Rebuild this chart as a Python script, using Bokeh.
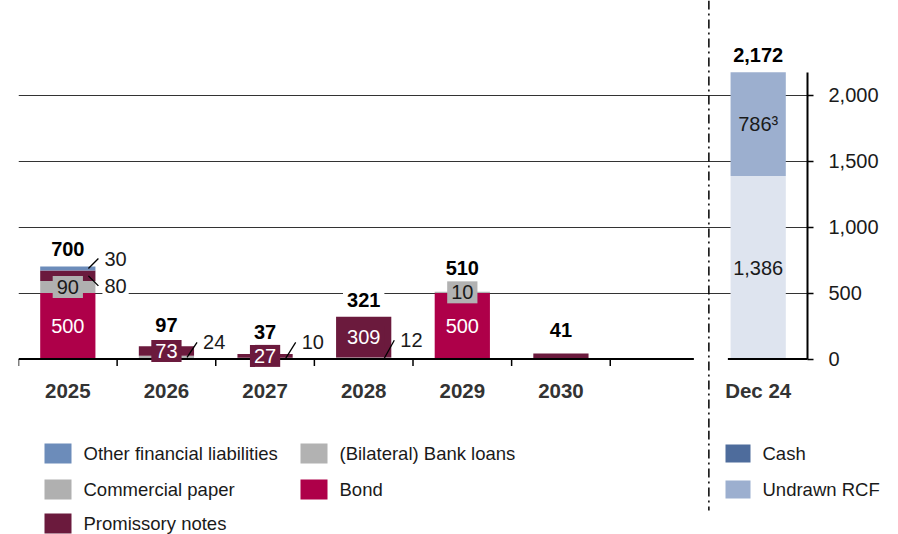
import numpy as np
from bokeh.plotting import figure
from bokeh.layouts import column
from bokeh.models import Range1d, FixedTicker, NumeralTickFormatter, ColumnDataSource
from bokeh.core.properties import value, field
from bokeh.embed import file_html
from bokeh.resources import INLINE

# ---------------- data ----------------
years = ["2025", "2026", "2027", "2028", "2029", "2030"]
bond = [500, 0, 0, 0, 500, 0]
bank_loans = [0, 24, 10, 12, 10, 0]
commercial_paper = [90, 0, 0, 0, 0, 0]
promissory_notes = [80, 73, 27, 309, 0, 41]
other_financial_liabilities = [30, 0, 0, 0, 0, 0]

liquidity_category = "Dec 24"
cash = [1386]
undrawn_rcf = [786]
undrawn_rcf_note = "\u00b3"

y_ticks = [0, 500, 1000, 1500, 2000]

# ---------------- style / layout ----------------
W, H = 898, 534
H_TOP = 430              # height of chart figure; the legend strip sits below
FRAME_L, FRAME_R = 18, 807
Y0_PX = 358.5            # pixel row of value 0
PX_PER_UNIT = 0.132      # vertical scale
FONT = "Liberation Sans"
BAR_W = 0.56

BOND_C = "#ae0049"
BL_C = "#b2b2b2"
CP_C = "#b0b0b0"
PN_C = "#6b1a3d"
OFL_C = "#6c8cba"
CASH_LEGEND_C = "#4e6c9c"
RCF_C = "#9cafcf"
CASH_BAR_C = "#dee4ef"
DARK = "#1a1a1a"

N_SLOTS = len(years) + 2
Y_TOP = Y0_PX / PX_PER_UNIT
Y_BOTTOM = -(H_TOP - Y0_PX) / PX_PER_UNIT
X_PER_PX = N_SLOTS / (FRAME_R - FRAME_L)


def dy(px):
    return px / PX_PER_UNIT


def dx(px):
    return px * X_PER_PX


# label placement (pixels): callouts with leader lines, rise of total labels
callout_rise = {
    ("2025", "Other financial liabilities"): 10,
    ("2025", "Promissory notes"): -10,
    ("2026", "(Bilateral) Bank loans"): 15,
    ("2027", "(Bilateral) Bank loans"): 16,
    ("2028", "(Bilateral) Bank loans"): 18,
}
no_inner_label = {("2030", "Promissory notes")}
total_rise = [18, 21, 22, 17, 24, 24]
liquidity_total_rise = 17

series = [
    ("Bond", bond, BOND_C, "white"),
    ("(Bilateral) Bank loans", bank_loans, BL_C, DARK),
    ("Commercial paper", commercial_paper, CP_C, DARK),
    ("Promissory notes", promissory_notes, PN_C, "white"),
    ("Other financial liabilities", other_financial_liabilities, OFL_C, "white"),
]

p = figure(width=W, height=H_TOP, x_range=Range1d(0, N_SLOTS), y_range=Range1d(Y_BOTTOM, Y_TOP),
           x_axis_location=None, y_axis_location="right", toolbar_location=None,
           output_backend="svg", min_border_left=FRAME_L, min_border_right=W - FRAME_R,
           min_border_top=0, min_border_bottom=0)
p.frame_align = False
p.outline_line_color = None
p.background_fill_color = "white"
p.border_fill_color = "white"
p.xgrid.visible = False

# right axis
ax = p.yaxis[0]
ax.ticker = FixedTicker(ticks=y_ticks)
ax.formatter = NumeralTickFormatter(format="0,0")
ax.bounds = (0, cash[0] + undrawn_rcf[0])
ax.axis_line_color = "black"
ax.axis_line_width = 2
ax.major_tick_line_color = "black"
ax.major_tick_line_width = 1.5
ax.major_tick_out = 6
ax.major_tick_in = 0
ax.minor_tick_line_color = None
ax.major_label_standoff = 15
ax.major_label_text_font = FONT
ax.major_label_text_font_size = "20px"
ax.major_label_text_color = DARK

p.ygrid.ticker = FixedTicker(ticks=y_ticks[1:])
p.ygrid.grid_line_color = "#333333"
p.ygrid.grid_line_width = 1

# ---------------- bars ----------------
xs = np.arange(len(years)) + 0.5
base = np.zeros(len(years))
inner = dict(x=[], y=[], text=[], color=[], bg=[])
call = dict(x=[], y=[], text=[])
lead = dict(x0=[], y0=[], x1=[], y1=[])
for name, vals, col, tcol in series:
    vals = np.array(vals, dtype=float)
    src = ColumnDataSource(dict(x=xs, bottom=base, top=base + vals))
    p.vbar(x="x", bottom="bottom", top="top", width=BAR_W, source=src,
           fill_color=col, line_color=None)
    for i, v in enumerate(vals):
        if v <= 0:
            continue
        key = (years[i], name)
        mid = base[i] + v / 2
        if key in no_inner_label:
            continue
        if key in callout_rise:
            xr = xs[i] + BAR_W / 2
            x0, x1 = xr - dx(7), xr + dx(3)
            y1 = mid + dy(callout_rise[key])
            lead["x0"].append(x0); lead["x1"].append(x1)
            lead["y0"].append(mid); lead["y1"].append(y1)
            call["x"].append(x1 + dx(4)); call["y"].append(y1); call["text"].append(f"{int(v):,}")
        else:
            inner["x"].append(xs[i]); inner["y"].append(mid); inner["text"].append(f"{int(v):,}")
            inner["color"].append(tcol); inner["bg"].append(col)
    base = base + vals
totals = base

# liquidity bar
lx = len(years) + 1.5
cash_arr = np.array(cash, dtype=float)
rcf_arr = np.array(undrawn_rcf, dtype=float)
p.vbar(x=[lx], bottom=[0], top=cash_arr, width=BAR_W, fill_color=CASH_BAR_C, line_color=None)
p.vbar(x=[lx], bottom=cash_arr, top=cash_arr + rcf_arr, width=BAR_W, fill_color=RCF_C, line_color=None)
liq = dict(x=[lx, lx], y=[cash_arr[0] / 2, cash_arr[0] + rcf_arr[0] / 2],
           text=[f"{cash[0]:,}", f"{undrawn_rcf[0]:,}{undrawn_rcf_note}"])
liq_total = cash_arr[0] + rcf_arr[0]

# ---------------- axis baseline, ticks, separator ----------------
sep = len(years) + 1
p.segment(x0=[0, sep + dx(19)], x1=[sep - dx(15), N_SLOTS], y0=[0, 0], y1=[0, 0],
          line_color="black", line_width=2)
bnd = np.arange(len(years) + 1)
p.segment(x0=bnd, x1=bnd, y0=np.zeros(len(bnd)), y1=np.full(len(bnd), -dy(7)),
          line_color="black", line_width=1.5)
p.segment(x0=[sep], x1=[sep], y0=[Y_TOP], y1=[Y_BOTTOM],
          line_color="black", line_width=1.5, line_dash="9 4 2 4")

# ---------------- labels ----------------
tot_src = ColumnDataSource(dict(
    x=list(xs) + [lx],
    y=list(totals + np.array([dy(r) for r in total_rise])) + [liq_total + dy(liquidity_total_rise)],
    text=[f"{int(t):,}" for t in totals] + [f"{int(liq_total):,}"]))
p.text(x="x", y="y", text="text", source=tot_src, text_align="center", text_baseline="middle",
       text_font=value(FONT), text_font_size="20px", text_font_style="bold", text_color="black",
       background_fill_color="white", padding=4)

p.text(x="x", y="y", text="text", source=ColumnDataSource(call), text_align="left",
       text_baseline="middle", text_font=value(FONT), text_font_size="20px", text_color=DARK,
       background_fill_color="white", padding=2)
p.segment(x0="x0", y0="y0", x1="x1", y1="y1", source=ColumnDataSource(lead),
          line_color="black", line_width=1.3)

p.text(x="x", y="y", text="text", source=ColumnDataSource(inner), text_align="center",
       text_baseline="middle", text_font=value(FONT), text_font_size="20px",
       text_color=field("color"), background_fill_color=field("bg"), padding=4)
p.text(x="x", y="y", text="text", source=ColumnDataSource(liq), text_align="center",
       text_baseline="middle", text_font=value(FONT), text_font_size="20px", text_color=DARK)

cat_src = ColumnDataSource(dict(x=list(xs) + [lx], y=[-dy(31.5)] * (len(years) + 1),
                                text=years + [liquidity_category]))
p.text(x="x", y="y", text="text", source=cat_src, text_align="center", text_baseline="middle",
       text_font=value(FONT), text_font_size="20.5px", text_font_style="bold", text_color="#333333")

# ---------------- legend strip (pixel coordinates, y downwards) ----------------
H_LEG = H - H_TOP
q = figure(width=W, height=H_LEG, x_range=Range1d(0, W), y_range=Range1d(H_LEG, 0),
           x_axis_location=None, y_axis_location=None, toolbar_location=None,
           output_backend="svg", min_border=0)
q.frame_align = False
q.outline_line_color = None
q.grid.visible = False
q.background_fill_color = "white"
q.border_fill_color = "white"

sep_px = FRAME_L + sep / X_PER_PX
q.segment(x0=[sep_px], x1=[sep_px], y0=[0], y1=[510 - H_TOP],
          line_color="black", line_width=1.5, line_dash="9 4 2 4")

row_y = [453 - H_TOP, 489 - H_TOP, 523 - H_TOP]
left_items = [
    ("Other financial liabilities", OFL_C, 44, row_y[0]),
    ("(Bilateral) Bank loans", BL_C, 300, row_y[0]),
    ("Commercial paper", CP_C, 44, row_y[1]),
    ("Bond", BOND_C, 300, row_y[1]),
    ("Promissory notes", PN_C, 44, row_y[2]),
]
right_items = [
    ("Cash", CASH_LEGEND_C, 725, row_y[0]),
    ("Undrawn RCF", RCF_C, 725, row_y[1]),
]
for items, sw_w, sw_h in ((left_items, 27, 20), (right_items, 25, 18)):
    labels = [it[0] for it in items]
    cols = [it[1] for it in items]
    lx0 = np.array([it[2] for it in items], dtype=float)
    ly = np.array([it[3] for it in items], dtype=float)
    q.quad(left=lx0, right=lx0 + sw_w, top=ly - sw_h / 2, bottom=ly + sw_h / 2,
           fill_color=cols, line_color=None)
    q.text(x=lx0 + sw_w + 12, y=ly, text=labels, text_align="left", text_baseline="middle",
           text_font=value(FONT), text_font_size="18.5px", text_color=DARK)

layout = column(p, q, spacing=0)
open("out.html", "w").write(file_html(layout, INLINE))
